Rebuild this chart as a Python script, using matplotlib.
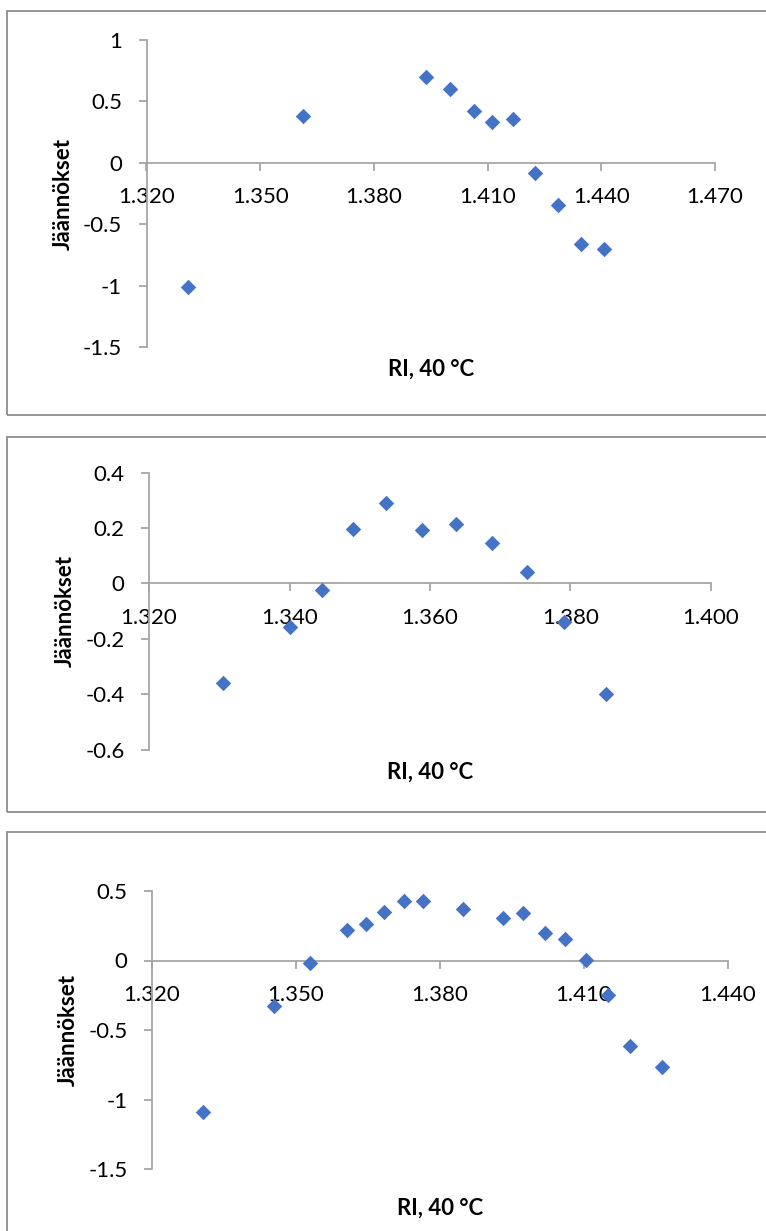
import matplotlib
matplotlib.use("Agg")
import matplotlib.pyplot as plt
from matplotlib.patches import Rectangle
from matplotlib.ticker import FixedLocator, FuncFormatter

plt.rcParams['font.family'] = ['Lato', 'DejaVu Sans']
plt.rcParams['axes.unicode_minus'] = False

# residuals vs RI (40 °C), three samples
ri_1 = [1.3310, 1.3614, 1.3938, 1.4001, 1.4064, 1.4111, 1.4166, 1.4226, 1.4287, 1.4347, 1.4406]
res_1 = [-1.015, 0.381, 0.702, 0.598, 0.424, 0.335, 0.354, -0.084, -0.345, -0.658, -0.702]

ri_2 = [1.3306, 1.3400, 1.3446, 1.3491, 1.3538, 1.3589, 1.3637, 1.3688, 1.3738, 1.3791, 1.3850]
res_2 = [-0.361, -0.157, -0.024, 0.196, 0.290, 0.191, 0.213, 0.147, 0.042, -0.141, -0.399]

ri_3 = [1.3306, 1.3454, 1.3529, 1.3606, 1.3646, 1.3684, 1.3724, 1.3765, 1.3847, 1.3931,
        1.3973, 1.4018, 1.4061, 1.4104, 1.4149, 1.4196, 1.4262]
res_3 = [-1.088, -0.325, -0.017, 0.219, 0.262, 0.349, 0.431, 0.431, 0.373, 0.306,
         0.342, 0.195, 0.156, 0.002, -0.245, -0.614, -0.768]

xticks_1 = [1.320, 1.350, 1.380, 1.410, 1.440, 1.470]
yticks_1 = [1, 0.5, 0, -0.5, -1, -1.5]
xticks_2 = [1.320, 1.340, 1.360, 1.380, 1.400]
yticks_2 = [0.4, 0.2, 0, -0.2, -0.4, -0.6]
xticks_3 = [1.320, 1.350, 1.380, 1.410, 1.440]
yticks_3 = [0.5, 0, -0.5, -1, -1.5]

x_title = "RI, 40 °C"
y_title = "Jäännökset"

W, H = 766, 1231
fig = plt.figure(figsize=(W / 100, H / 100), dpi=100)

AXIS_GRAY = "#a6a6a6"
FRAME_GRAY = "#8c8c8c"
BLUE = "#4472c4"

# (left, right, top, bottom) of plot area in px, frame (top, bottom), ylabel x, xlabel top
panels = [
    (ri_1, res_1, xticks_1, yticks_1, (146.5, 715, 40, 347), (11, 415), 74, 359),
    (ri_2, res_2, xticks_2, yticks_2, (149, 711, 472.5, 749.5), (437, 812), 76, 762),
    (ri_3, res_3, xticks_3, yticks_3, (152, 728, 891, 1169), (832, 1245), 79, 1198),
]

for xs, ys, xt, yt, (l, r, t, b), (ft, fb), ylab_x, xlab_top in panels:
    # chart frame
    fig.patches.append(Rectangle((6.5 / W, 1 - fb / H), 1.2, (fb - ft) / H,
                                 transform=fig.transFigure, fill=False,
                                 edgecolor=FRAME_GRAY, linewidth=1.3))

    ax = fig.add_axes([l / W, 1 - b / H, (r - l) / W, (b - t) / H])
    ax.scatter(xs, ys, marker="D", s=62, color=BLUE, linewidths=0, zorder=3)

    ax.set_xlim(xt[0], xt[-1])
    ax.set_ylim(min(yt), max(yt))
    ax.xaxis.set_major_locator(FixedLocator(xt))
    ax.yaxis.set_major_locator(FixedLocator(yt))
    ax.xaxis.set_major_formatter(FuncFormatter(lambda v, p: "%.3f" % v))
    ax.yaxis.set_major_formatter(FuncFormatter(lambda v, p: "%g" % round(v, 3)))

    for side in ["top", "right"]:
        ax.spines[side].set_visible(False)
    ax.spines["bottom"].set_position(("data", 0))
    for side in ["left", "bottom"]:
        ax.spines[side].set_color(AXIS_GRAY)
        ax.spines[side].set_linewidth(1.3)

    ax.tick_params(axis="both", direction="out", length=5.5, width=1.3,
                   color=AXIS_GRAY, labelsize=16, labelcolor="black")
    ax.tick_params(axis="y", pad=12)
    ax.tick_params(axis="x", pad=12)

    ax.set_xlabel(x_title, fontsize=16, fontweight="bold")
    ax.set_ylabel(y_title, fontsize=16, fontweight="bold")
    ax.xaxis.set_label_coords(0.5, -(xlab_top - b) / (b - t))
    ax.yaxis.set_label_coords((ylab_x - l) / (r - l), 0.5)
    ax.patch.set_alpha(0)

fig.savefig("out.png", dpi=100)
